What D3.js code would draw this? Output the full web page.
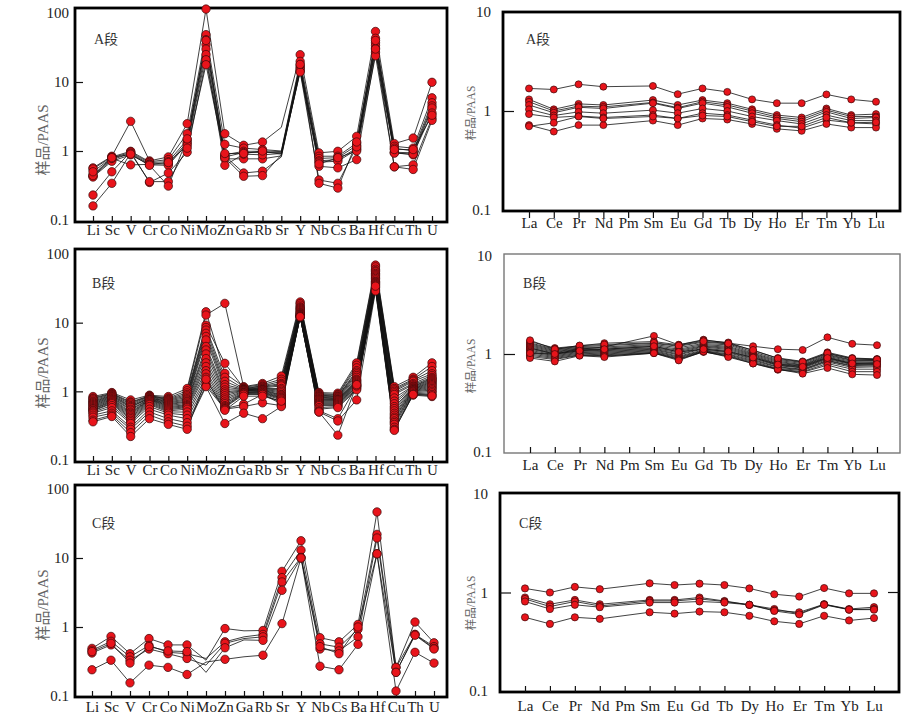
<!DOCTYPE html>
<meta charset="utf-8" />
<style>
  body { margin: 0; background: #fff; }
  svg { display: block; }
  text { font-family: 'Liberation Serif', 'Noto Sans CJK SC', serif; font-size: 15px; fill: #222; }
  .line { fill: none; stroke: #111; stroke-width: 0.8px; }
  .dot { fill: #e8141b; stroke: #3a0808; stroke-width: 0.7px; }
  .ytitle { fill: #666; }
  .tick line { stroke: #111; stroke-width: 1.2px; }
</style>
<svg width="921" height="720"></svg>
<script src="https://d3js.org/d3.v7.min.js"></script>
<script>
  // element orders (PAAS normalised)
  var traceEls = ['Li', 'Sc', 'V', 'Cr', 'Co', 'Ni', 'Mo', 'Zn', 'Ga', 'Rb', 'Sr', 'Y', 'Nb', 'Cs', 'Ba', 'Hf', 'Cu', 'Th', 'U'];
  var reeEls = ['La', 'Ce', 'Pr', 'Nd', 'Pm', 'Sm', 'Eu', 'Gd', 'Tb', 'Dy', 'Ho', 'Er', 'Tm', 'Yb', 'Lu'];

  var traceTicks = [100, 10, 1, 0.1];
  var traceTickLabels = ['100', '10', '1', '0.1'];
  var reeTicks = [10, 1, 0.1];
  var reeTickLabels = ['10', '1', '0.1'];
  var yTitle = '样品/PAAS';

  // A段 trace elements
  var traceA = [
    [0.57, 0.84, 2.69, 0.72, 0.82, 2.49, 114, 1.78, 1.21, 1.35, 2.2, 24.9, 0.94, 0.99, 1.63, 54, 1.28, 1.54, 9.9],
    [0.55, 0.82, 0.99, 0.70, 0.75, 1.78, 48.6, 1.25, 1.10, 1.05, 1.0, 19.9, 0.84, 0.84, 1.30, 43, 1.17, 1.10, 5.9],
    [0.45, 0.80, 0.95, 0.68, 0.70, 1.46, 41, 0.88, 0.99, 0.99, 0.90, 17.8, 0.78, 0.80, 1.20, 37, 1.10, 1.00, 5.0],
    [0.43, 0.75, 0.92, 0.65, 0.65, 1.35, 34.7, 0.82, 0.95, 0.95, 0.95, 16.5, 0.72, 0.75, 1.10, 34, 0.96, 0.94, 4.5],
    [0.42, 0.71, 0.88, 0.63, 0.62, 1.28, 30, 0.77, 0.77, 0.77, 0.85, 15.9, 0.69, 0.71, 1.05, 31, 0.95, 0.88, 4.2],
    [0.44, 0.78, 0.63, 0.64, 0.68, 1.20, 25, 0.62, 0.90, 0.88, 0.92, 14.3, 0.60, 0.57, 0.75, 27, 0.93, 0.90, 3.55],
    [0.23, 0.50, 0.97, 0.35, 0.48, 0.96, 21, 0.85, 0.48, 0.51, 0.82, 15, 0.65, 0.80, 1.00, 24, 0.59, 0.63, 3.0],
    [0.16, 0.34, 0.93, 0.36, 0.36, 1.10, 17.8, 0.80, 0.43, 0.44, 0.88, 14, 0.38, 0.34, 1.15, 30, 0.59, 0.54, 2.78],
    [0.50, 0.80, 0.90, 0.62, 0.31, 1.50, 40, 0.92, 0.92, 1.00, 0.98, 18, 0.34, 0.29, 1.35, 40, 1.05, 1.05, 3.3]
  ];

  // B段 trace elements
  var traceB = [
    [0.84, 0.96, 0.75, 0.88, 0.84, 1.10, 14.4, 1.83, 1.17, 1.30, 1.67, 20, 0.96, 0.94, 2.6, 69, 1.17, 1.6, 2.6],
    [0.80, 0.94, 0.70, 0.86, 0.80, 1.02, 12.9, 19.1, 1.15, 1.25, 1.5, 19, 0.93, 0.90, 2.4, 65, 1.10, 1.5, 2.3],
    [0.78, 0.92, 0.68, 0.85, 0.78, 0.95, 9.2, 2.56, 1.12, 1.20, 1.4, 18, 0.90, 0.88, 2.2, 60, 1.05, 1.45, 2.0],
    [0.75, 0.90, 0.65, 0.84, 0.76, 0.90, 8.5, 1.6, 1.10, 1.18, 1.3, 17, 0.88, 0.85, 2.0, 57, 1.00, 1.4, 1.8],
    [0.72, 0.88, 0.62, 0.82, 0.74, 0.86, 7.8, 1.4, 1.08, 1.15, 1.25, 16.5, 0.86, 0.84, 1.9, 55, 0.95, 1.3, 1.7],
    [0.70, 0.86, 0.60, 0.80, 0.72, 0.82, 7.0, 1.25, 1.07, 1.12, 1.2, 16, 0.84, 0.82, 1.8, 52, 0.90, 1.25, 1.6],
    [0.68, 0.84, 0.58, 0.80, 0.70, 0.78, 6.3, 1.15, 1.06, 1.10, 1.1, 15.5, 0.82, 0.80, 1.7, 50, 0.80, 1.2, 1.55],
    [0.66, 0.82, 0.55, 0.78, 0.68, 0.75, 5.6, 1.05, 1.05, 1.08, 1.05, 15, 0.80, 0.78, 1.6, 48, 0.72, 1.18, 1.5],
    [0.64, 0.80, 0.53, 0.77, 0.66, 0.72, 4.5, 0.98, 1.04, 1.06, 1.0, 14.5, 0.78, 0.76, 1.5, 46, 0.66, 1.15, 1.45],
    [0.62, 0.78, 0.50, 0.76, 0.64, 0.70, 4.0, 0.92, 1.03, 1.05, 0.95, 14, 0.76, 0.75, 1.45, 44, 0.60, 1.12, 1.4],
    [0.60, 0.76, 0.48, 0.75, 0.62, 0.67, 3.5, 0.86, 1.02, 1.04, 0.9, 13.8, 0.74, 0.74, 1.4, 42, 0.56, 1.1, 1.35],
    [0.58, 0.74, 0.46, 0.74, 0.60, 0.64, 3.0, 0.80, 1.00, 1.02, 0.88, 13.5, 0.72, 0.72, 1.35, 40, 0.52, 1.08, 1.3],
    [0.56, 0.72, 0.44, 0.72, 0.58, 0.62, 2.6, 0.75, 0.98, 1.00, 0.85, 13.2, 0.70, 0.70, 1.3, 39, 0.48, 1.06, 1.25],
    [0.55, 0.70, 0.42, 0.70, 0.56, 0.60, 2.3, 0.70, 0.96, 0.98, 0.82, 13, 0.68, 0.68, 1.25, 38, 0.45, 1.04, 1.2],
    [0.53, 0.68, 0.40, 0.68, 0.54, 0.58, 2.0, 0.66, 0.95, 0.96, 0.80, 12.8, 0.66, 0.66, 1.2, 37, 0.42, 1.02, 1.15],
    [0.52, 0.66, 0.38, 0.66, 0.52, 0.55, 1.8, 0.62, 0.94, 0.94, 0.78, 12.6, 0.64, 0.64, 1.18, 36, 0.40, 1.0, 1.1],
    [0.50, 0.62, 0.36, 0.64, 0.50, 0.50, 1.6, 0.60, 0.92, 0.92, 0.75, 12.4, 0.62, 0.62, 1.15, 35, 0.37, 0.98, 1.05],
    [0.48, 0.58, 0.34, 0.60, 0.48, 0.45, 1.45, 0.58, 0.90, 0.90, 0.70, 12.2, 0.58, 0.60, 1.1, 33, 0.35, 0.95, 1.0],
    [0.45, 0.52, 0.30, 0.55, 0.45, 0.40, 1.3, 0.56, 0.65, 0.90, 0.66, 12.2, 0.55, 0.58, 1.05, 32, 0.33, 0.92, 0.95],
    [0.42, 0.48, 0.28, 0.50, 0.40, 0.35, 1.2, 0.55, 0.60, 0.68, 0.62, 12.2, 0.52, 0.40, 1.2, 30, 0.30, 0.90, 0.90],
    [0.38, 0.45, 0.25, 0.45, 0.36, 0.31, 1.17, 0.34, 0.48, 0.40, 0.60, 12.2, 0.50, 0.37, 0.75, 29, 0.28, 0.88, 0.84],
    [0.36, 0.43, 0.22, 0.40, 0.33, 0.28, 1.5, 0.53, 0.85, 0.85, 0.72, 12.2, 0.50, 0.23, 1.25, 34, 0.27, 0.90, 0.86]
  ];

  // C段 trace elements
  var traceC = [
    [0.49, 0.73, 0.41, 0.68, 0.55, 0.55, 0.33, 0.95, 0.88, 0.89, 6.4, 17.8, 0.70, 0.61, 1.09, 46.5, 0.26, 1.18, 0.59],
    [0.46, 0.62, 0.37, 0.54, 0.43, 0.41, 0.35, 0.61, 0.72, 0.78, 5.2, 13, 0.57, 0.51, 0.93, 22, 0.26, 0.78, 0.52],
    [0.42, 0.55, 0.33, 0.48, 0.41, 0.35, 0.28, 0.58, 0.68, 0.72, 4.5, 10.2, 0.48, 0.45, 0.72, 19.5, 0.22, 0.78, 0.49],
    [0.44, 0.58, 0.30, 0.52, 0.45, 0.44, 0.22, 0.50, 0.65, 0.64, 3.4, 10, 0.52, 0.41, 1.0, 11.5, 0.22, 0.76, 0.48],
    [0.24, 0.33, 0.155, 0.28, 0.26, 0.205, 0.31, 0.34, 0.37, 0.39, 1.12, 10, 0.27, 0.24, 0.56, 11.5, 0.118, 0.43, 0.30]
  ];

  // REE, Pm not analysed
  var reeA = [
    [1.69, 1.65, 1.86, 1.76, null, 1.79, 1.48, 1.69, 1.56, 1.31, 1.20, 1.20, 1.47, 1.31, 1.24],
    [1.31, 1.04, 1.18, 1.15, null, 1.29, 1.15, 1.29, 1.20, 1.04, 0.91, 0.86, 1.06, 0.91, 0.93],
    [1.24, 1.00, 1.12, 1.10, null, 1.22, 1.08, 1.24, 1.15, 1.00, 0.87, 0.82, 1.02, 0.88, 0.88],
    [1.15, 0.96, 1.09, 1.06, null, 1.20, 1.06, 1.20, 1.10, 0.95, 0.84, 0.78, 0.98, 0.84, 0.86],
    [1.04, 0.90, 0.98, 0.95, null, 1.02, 0.95, 1.06, 1.00, 0.88, 0.80, 0.74, 0.91, 0.80, 0.80],
    [0.93, 0.86, 0.89, 0.86, null, 0.91, 0.84, 0.95, 0.91, 0.81, 0.72, 0.67, 0.81, 0.76, 0.74],
    [0.72, 0.62, 0.72, 0.72, null, 0.80, 0.72, 0.84, 0.82, 0.74, 0.66, 0.63, 0.74, 0.68, 0.68],
    [0.70, 0.76, 0.88, 0.84, null, 0.88, 0.84, 0.90, 0.88, 0.78, 0.70, 0.70, 0.86, 0.76, 0.77]
  ];

  var reeB = [
    [1.15, 1.00, 1.12, 1.18, null, 1.53, 1.24, 1.40, 1.29, 1.20, 1.12, 1.10, 1.48, 1.27, 1.23],
    [1.34, 1.15, 1.21, 1.29, null, 1.34, 1.24, 1.38, 1.31, 1.08, 0.91, 0.84, 1.04, 0.91, 0.89],
    [1.30, 1.12, 1.19, 1.22, null, 1.28, 1.20, 1.32, 1.27, 1.05, 0.88, 0.82, 1.01, 0.89, 0.88],
    [1.27, 1.10, 1.17, 1.18, null, 1.25, 1.16, 1.28, 1.24, 1.02, 0.86, 0.80, 0.99, 0.87, 0.87],
    [1.24, 1.08, 1.15, 1.15, null, 1.22, 1.12, 1.25, 1.20, 1.00, 0.84, 0.78, 0.97, 0.86, 0.86],
    [1.21, 1.06, 1.13, 1.12, null, 1.19, 1.09, 1.22, 1.17, 0.98, 0.82, 0.77, 0.95, 0.84, 0.85],
    [1.18, 1.04, 1.12, 1.10, null, 1.16, 1.06, 1.20, 1.14, 0.96, 0.80, 0.76, 0.93, 0.82, 0.83],
    [1.15, 1.02, 1.10, 1.08, null, 1.14, 1.03, 1.18, 1.11, 0.94, 0.79, 0.75, 0.92, 0.80, 0.82],
    [1.12, 1.00, 1.08, 1.06, null, 1.12, 1.00, 1.15, 1.08, 0.92, 0.77, 0.73, 0.90, 0.79, 0.80],
    [1.09, 0.98, 1.06, 1.04, null, 1.10, 0.98, 1.13, 1.05, 0.90, 0.76, 0.72, 0.88, 0.78, 0.79],
    [1.06, 0.96, 1.04, 1.02, null, 1.08, 0.95, 1.10, 1.03, 0.88, 0.74, 0.70, 0.86, 0.76, 0.78],
    [1.03, 0.94, 1.02, 1.00, null, 1.06, 0.93, 1.08, 1.00, 0.86, 0.73, 0.69, 0.85, 0.75, 0.76],
    [1.00, 0.92, 1.00, 0.98, null, 1.04, 0.91, 1.07, 0.98, 0.84, 0.71, 0.68, 0.83, 0.73, 0.74],
    [0.97, 0.90, 0.98, 0.96, null, 1.03, 0.89, 1.06, 0.96, 0.82, 0.70, 0.66, 0.80, 0.70, 0.70],
    [0.94, 0.88, 0.97, 0.95, null, 1.02, 0.88, 1.05, 0.95, 0.80, 0.69, 0.65, 0.77, 0.66, 0.66],
    [0.91, 0.84, 0.96, 0.93, null, 1.02, 0.86, 1.06, 0.93, 0.80, 0.70, 0.63, 0.72, 0.62, 0.61],
    [1.38, 1.12, 1.22, 1.25, null, 1.30, 1.22, 1.35, 1.28, 1.10, 0.90, 0.83, 1.02, 0.90, 0.88],
    [1.02, 1.00, 1.08, 1.12, null, 1.20, 1.05, 1.12, 1.06, 0.92, 0.78, 0.74, 0.91, 0.80, 0.79]
  ];

  var reeC = [
    [1.10, 1.00, 1.14, 1.08, null, 1.24, 1.19, 1.23, 1.19, 1.10, 0.96, 0.91, 1.11, 0.98, 0.98],
    [0.89, 0.76, 0.84, 0.76, null, 0.84, 0.84, 0.89, 0.82, 0.75, 0.68, 0.61, 0.76, 0.68, 0.71],
    [0.86, 0.72, 0.81, 0.73, null, 0.82, 0.82, 0.86, 0.81, 0.75, 0.66, 0.63, 0.76, 0.67, 0.68],
    [0.81, 0.68, 0.75, 0.71, null, 0.79, 0.79, 0.81, 0.79, 0.75, 0.65, 0.60, 0.75, 0.67, 0.67],
    [0.56, 0.48, 0.56, 0.54, null, 0.63, 0.61, 0.64, 0.63, 0.58, 0.51, 0.48, 0.58, 0.52, 0.55]
  ];

  var svg = d3.select('svg');

  // layout of the six panels
  var panels = [
    { cats: traceEls, data: traceA, noDot: ['Sr'], label: 'A段', box: [75, 8, 447, 222], xr: [93, 432], dom: [0.1, 100], yr: [220, 13],
      ticks: traceTicks, tickLabels: traceTickLabels, innerY: [10, 1], yTickLen: 8, yPad: 6, xTick: -6, xPad: 2,
      r: 4.2, frameW: 2.8, frameColor: '#000', lab: [94, 44], titleX: 43, titleY: 140, titleSize: 15 },
    { cats: reeEls, data: reeA, noDot: [], label: 'A段', box: [503, 12, 900, 211], xr: [529, 876], dom: [0.1, 10], yr: [210, 12],
      ticks: reeTicks, tickLabels: reeTickLabels, innerY: [1], yTickLen: 11, yPad: 12, xTick: 7, xPad: -1,
      r: 3.5, frameW: 2.8, frameColor: '#000', lab: [526, 44], titleX: 471, titleY: 113, titleSize: 11.5 },
    { cats: traceEls, data: traceB, noDot: [], label: 'B段', box: [75, 249, 447, 462], xr: [93, 432], dom: [0.1, 100], yr: [460, 254],
      ticks: traceTicks, tickLabels: traceTickLabels, innerY: [10, 1], yTickLen: 8, yPad: 6, xTick: -6, xPad: 2,
      r: 4.2, frameW: 2.8, frameColor: '#000', lab: [92, 288], titleX: 43, titleY: 373, titleSize: 15 },
    { cats: reeEls, data: reeB, noDot: [], label: 'B段', box: [504, 254, 900, 453], xr: [530, 877], dom: [0.1, 10], yr: [452, 256],
      ticks: reeTicks, tickLabels: reeTickLabels, innerY: [1], yTickLen: 11, yPad: 12, xTick: -6, xPad: 6,
      r: 3.5, frameW: 1.4, frameColor: '#777', lab: [523, 288], titleX: 471, titleY: 366, titleSize: 11.5 },
    { cats: traceEls, data: traceC, noDot: ['Mo', 'Ga'], label: 'C段', box: [75, 485, 447, 697], xr: [92, 434], dom: [0.1, 100], yr: [696, 489],
      ticks: traceTicks, tickLabels: traceTickLabels, innerY: [10, 1], yTickLen: 8, yPad: 6, xTick: -6, xPad: 4,
      r: 4.2, frameW: 2.8, frameColor: '#000', lab: [92, 528], titleX: 43, titleY: 605, titleSize: 15 },
    { cats: reeEls, data: reeC, noDot: [], label: 'C段', box: [500, 493, 899, 692], xr: [525, 874], dom: [0.1, 10], yr: [691, 494],
      ticks: reeTicks, tickLabels: reeTickLabels, innerY: [1], yTickLen: 11, yPad: 12, xTick: -6, xPad: 8, rightTick: true,
      r: 3.6, frameW: 2.8, frameColor: '#000', lab: [519, 528], titleX: 471, titleY: 603, titleSize: 11.5 }
  ];

  panels.forEach(drawPanel);

  function drawPanel(p) {
    var g = svg.append('g');
    var x = d3.scalePoint().domain(p.cats).range(p.xr);
    var y = d3.scaleLog().domain(p.dom).range(p.yr);

    // frame
    g.append('rect')
      .attr('x', p.box[0])
      .attr('y', p.box[1])
      .attr('width', p.box[2] - p.box[0])
      .attr('height', p.box[3] - p.box[1])
      .attr('fill', 'none')
      .attr('stroke', p.frameColor)
      .attr('stroke-width', p.frameW);

    // x axis: element names
    var xa = g.append('g')
      .attr('transform', 'translate(0,' + p.box[3] + ')')
      .call(d3.axisBottom(x).tickSizeInner(p.xTick).tickSizeOuter(0).tickPadding(p.xPad))
      .attr('font-family', null)
      .attr('font-size', null);
    xa.select('.domain').remove();

    // y axis
    var ya = g.append('g')
      .attr('transform', 'translate(' + p.box[0] + ',0)')
      .call(d3.axisLeft(y)
        .tickValues(p.ticks)
        .tickFormat(function (d, i) { return p.tickLabels[i]; })
        .tickSizeInner(-p.yTickLen)
        .tickSizeOuter(0)
        .tickPadding(p.yPad))
      .attr('font-family', null)
      .attr('font-size', null);
    ya.select('.domain').remove();
    ya.selectAll('.tick')
      .filter(function (d) { return p.innerY.indexOf(d) < 0; })
      .select('line')
      .remove();

    if (p.rightTick) {
      g.append('line')
        .attr('x1', p.box[2] - p.yTickLen)
        .attr('x2', p.box[2])
        .attr('y1', y(1))
        .attr('y2', y(1))
        .attr('stroke', '#111')
        .attr('stroke-width', 1.2);
    }

    // y title
    g.append('text')
      .attr('class', 'ytitle')
      .attr('transform', 'translate(' + p.titleX + ',' + p.titleY + ') rotate(-90)')
      .attr('text-anchor', 'middle')
      .attr('dy', '0.35em')
      .style('font-size', p.titleSize + 'px')
      .text(yTitle);

    // panel label
    g.append('text')
      .attr('x', p.lab[0])
      .attr('y', p.lab[1])
      .style('fill', '#333')
      .style('font-size', '14px')
      .text(p.label);

    var series = p.data.map(function (s) {
      return p.cats
        .map(function (c, i) { return { c: c, v: s[i] }; })
        .filter(function (d) { return d.v != null; });
    });

    var line = d3.line()
      .x(function (d) { return x(d.c); })
      .y(function (d) { return y(d.v); });

    g.selectAll('.line')
      .data(series)
      .enter()
      .append('path')
      .attr('class', 'line')
      .attr('d', line);

    var dots = [];
    series.forEach(function (s) {
      s.forEach(function (d) {
        if (p.noDot.indexOf(d.c) < 0) dots.push(d);
      });
    });

    g.selectAll('.dot')
      .data(dots)
      .enter()
      .append('circle')
      .attr('class', 'dot')
      .attr('cx', function (d) { return x(d.c); })
      .attr('cy', function (d) { return y(d.v); })
      .attr('r', p.r);
  }
</script>
